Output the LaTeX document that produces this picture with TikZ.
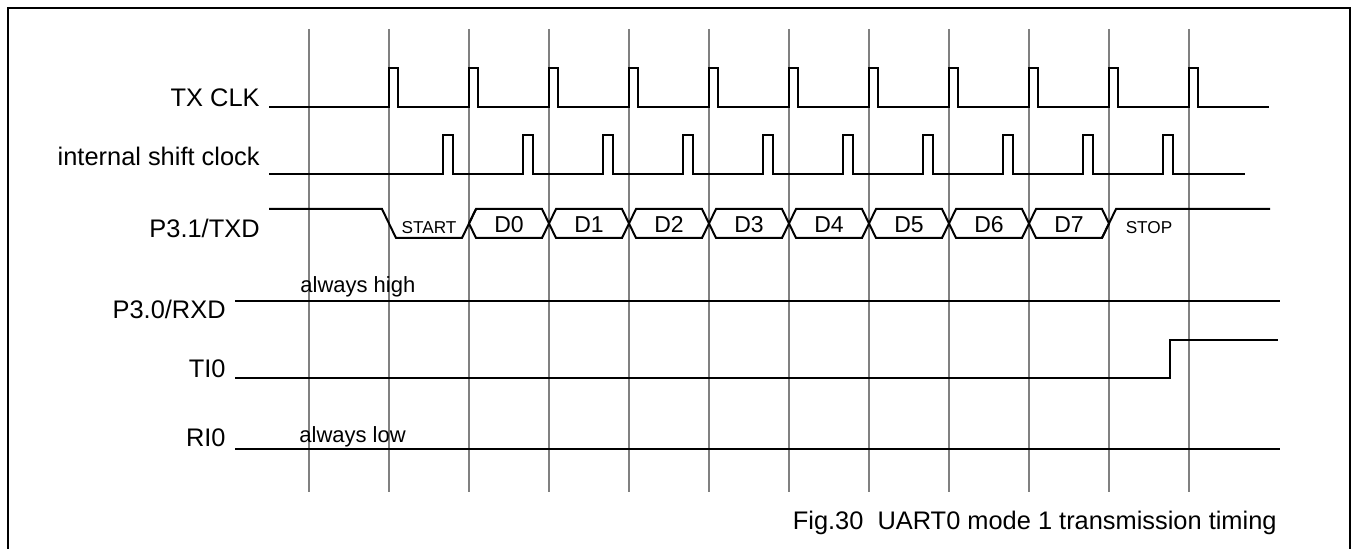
\documentclass[tikz,border=0pt]{standalone}
\usepackage{fontspec}
\setmainfont{Liberation Sans}
\definecolor{grisL}{RGB}{128,128,128}

\begin{document}
\begin{tikzpicture}[x=0.5pt,y=-0.5pt,
    grille/.style={color=grisL,line width=1pt},
    signal/.style={line width=1pt,line join=miter},
    nom/.style={anchor=base east,inner sep=0pt,font=\fontsize{12.7}{15}\selectfont},
    note/.style={anchor=base west,inner sep=0pt,font=\fontsize{11}{13}\selectfont},
    bit/.style={anchor=base,inner sep=0pt,font=\fontsize{11.5}{13}\selectfont},
    petit/.style={anchor=base,inner sep=0pt,font=\fontsize{8.6}{10}\selectfont}]
    \useasboundingbox (0,0) rectangle (1356,549);
    \draw[line width=1pt] (8,549)--(8,8)--(1350,8)--(1350,549);
  % grille verticale
    \foreach \i in {0,...,11}
      \draw[grille] ({309+80*\i},29)--({309+80*\i},492);
  % noms des signaux
    \node[nom] (txclk) at (260,107) {TX CLK};
    \node[nom] (shclk) at (260,166) {internal shift clock};
    \node[nom] (txd) at (260,238) {P3.1/TXD};
    \node[nom] (rxd) at (226,319) {P3.0/RXD};
    \node[nom] (tio) at (226,378) {TI0};
    \node[nom] (rio) at (226,447) {RI0};
  % TX CLK
    \draw[signal] (269,107) \foreach \i in {0,...,10}{
      -- ({389+80*\i},107) -- ({389+80*\i},68) -- ({398+80*\i},68) -- ({398+80*\i},107)}
      -- (1269,107);
  % internal shift clock
    \draw[signal] (269,174) \foreach \i in {0,...,9}{
      -- ({443+80*\i},174) -- ({443+80*\i},135) -- ({453+80*\i},135) -- ({453+80*\i},174)}
      -- (1245,174);
  % P3.1/TXD
    \draw[signal] (269,209) -- (382,209) -- (396,238) -- (462,238) -- (476,209);
    \foreach \i in {0,...,7}{
      \draw[signal] ({469+80*\i},223.5) -- ({476+80*\i},209) -- ({542+80*\i},209)
        -- ({549+80*\i},223.5) -- ({542+80*\i},238) -- ({476+80*\i},238) -- cycle;
      \node[bit] (d\i) at ({509+80*\i},233) {D\i};
    }
    \draw[signal] (1102,238) -- (1116,209) -- (1270,209);
    \node[petit] (start) at (429,234) {START};
    \node[petit] (stop) at (1149,234) {STOP};
  % P3.0/RXD, TI0, RI0
    \draw[signal] (235,301) -- (1280,301);
    \node[note] (haut) at (300,293) {always high};
    \draw[signal] (235,378) -- (1170,378) -- (1170,340) -- (1278,340);
    \draw[signal] (235,449) -- (1280,449);
    \node[note] (bas) at (299,443) {always low};
  % legende
    \node[nom] (fig) at (1277,530) {Fig.30\ \ UART0 mode 1 transmission timing};
\end{tikzpicture}
\end{document}
